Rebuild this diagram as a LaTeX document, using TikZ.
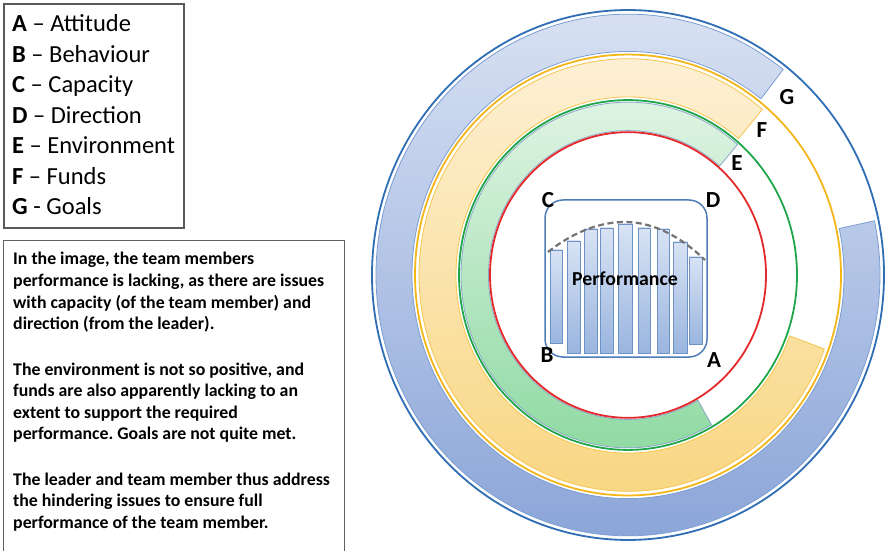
\documentclass[tikz,border=0pt]{standalone}
\usepackage{fontspec}
\setmainfont{Carlito}
\definecolor{bluering}{HTML}{2F6DB5}
\definecolor{blueedge}{HTML}{7C9ED2}
\definecolor{bluetop}{HTML}{DCE4F4}
\definecolor{bluebot}{HTML}{87A2D7}
\definecolor{yellowring}{HTML}{F4B61A}
\definecolor{yellowedge}{HTML}{F5C64E}
\definecolor{yellowtop}{HTML}{FDF1D8}
\definecolor{yellowbot}{HTML}{F8D681}
\definecolor{greenring}{HTML}{1FA64A}
\definecolor{greenedge}{HTML}{8AA7C6}
\definecolor{greentop}{HTML}{E3F5E6}
\definecolor{greenbot}{HTML}{8DD9A1}
\definecolor{redring}{HTML}{E5292B}
\definecolor{boxline}{HTML}{4F7DB8}
\definecolor{bartop}{HTML}{D8E3F4}
\definecolor{barbot}{HTML}{9AB5DF}
\definecolor{barline}{HTML}{6E92C6}
\definecolor{frameline}{HTML}{5A5A5A}
\frenchspacing
\begin{document}
\begin{tikzpicture}[x=1pt,y=1pt,
  ring/.style={line width=1.8pt},
  bandedge/.style={line width=0.8pt},
  letter/.style={font=\fontsize{23}{23}\selectfont\bfseries, inner sep=0pt},
  legendline/.style={font=\fontsize{24.5}{24.5}\selectfont, inner sep=0pt, anchor=base west},
  para/.style={font=\fontsize{17.8}{17.8}\selectfont\bfseries, inner sep=0pt, anchor=base west},
  bar/.style={draw=barline, line width=0.7pt, top color=bartop, bottom color=barbot},
  perfcurve/.style={draw=gray!90!black, line width=2.2pt, dash pattern=on 6pt off 3.5pt}]

\useasboundingbox (0,0) rectangle (887,550);
\fill[white] (0,0) rectangle (887,550);

% legend of the letters
\draw[frameline, line width=1.2pt] (4,322) rectangle (184,546);
\foreach \yy/\ky/\dd/\tx [count=\i] in {32/A/–/Attitude, 62.5/B/–/Behaviour,
    93/C/–/Capacity, 123.5/D/–/Direction, 154/E/–/Environment,
    184.5/F/–/Funds, 215/G/-/Goals}
  \node[legendline] (key\i) at (12,550-\yy) {\textbf{\ky} {\dd} \tx};

% explanatory text
\draw[gray!75!black, line width=1pt] (3,-10) -- (3,309) -- (344,309) -- (344,-10);
\foreach \yy/\tx [count=\i] in {
    265/{In the image, the team members},
    286.5/{performance is lacking, as there are issues},
    308/{with capacity (of the team member) and},
    329.5/{direction (from the leader).},
    375/{The environment is not so positive, and},
    396.5/{funds are also apparently lacking to an},
    418/{extent to support the required},
    439.5/{performance. Goals are not quite met.},
    485/{The leader and team member thus address},
    506.5/{the hindering issues to ensure full},
    528/{performance of the team member.}}
  \node[para] (line\i) at (13,550-\yy) {\tx};

% concentric rings and their partial bands
\begin{scope}[shift={(628,275)}, yscale=1.035]
  % G: goals band
  \shade[top color=bluetop, bottom color=bluebot, draw=blueedge, bandedge]
    (52:252) arc[start angle=52, end angle=372, radius=252]
    -- (12:216) arc[start angle=372, end angle=52, radius=216] -- cycle;
  % F: funds band
  \shade[top color=yellowtop, bottom color=yellowbot, draw=yellowedge, bandedge]
    (50:209) arc[start angle=50, end angle=340, radius=209]
    -- (340:172) arc[start angle=340, end angle=50, radius=172] -- cycle;
  % E: environment band
  \shade[top color=greentop, bottom color=greenbot, draw=greenedge, bandedge]
    (49:167) arc[start angle=49, end angle=300, radius=167]
    -- (300:139.5) arc[start angle=300, end angle=49, radius=139.5] -- cycle;
  \draw[ring, redring] (0,0) circle[radius=138];
  \draw[ring, greenring] (0,0) circle[radius=169];
  \draw[ring, yellowring] (0,0) circle[radius=213];
  \draw[ring, bluering] (0,0) circle[radius=256];
\end{scope}

% performance box with its bars
\draw[boxline, fill=white, line width=1.5pt, rounded corners=18pt]
  (545,193) rectangle (707,350);
\foreach \l/\w/\t/\b in {550/12/250/343, 567/13/241/353, 584/13/229/353,
    600/13/228/353, 618/14/224/353, 638/12/228/353, 657/12/229/353,
    673/14/242/353, 689/13/257/344}
  \shade[bar] (\l,550-\t) rectangle (\l+\w,550-\b);
\draw[perfcurve] (548,298) parabola bend (625,328) (705,290);
\node[font=\fontsize{19.8}{19.8}\selectfont\bfseries, inner sep=0pt] (perf) at (625,271) {Performance};

% letters around the box and rings
\node[letter] (la) at (714,190) {A};
\node[letter] (lb) at (547,195) {B};
\node[letter] (lc) at (548,350) {C};
\node[letter] (ld) at (713,350) {D};
\node[letter] (le) at (737,387) {E};
\node[letter] (lf) at (762,420) {F};
\node[letter] (lg) at (787,453) {G};
\end{tikzpicture}
\end{document}
